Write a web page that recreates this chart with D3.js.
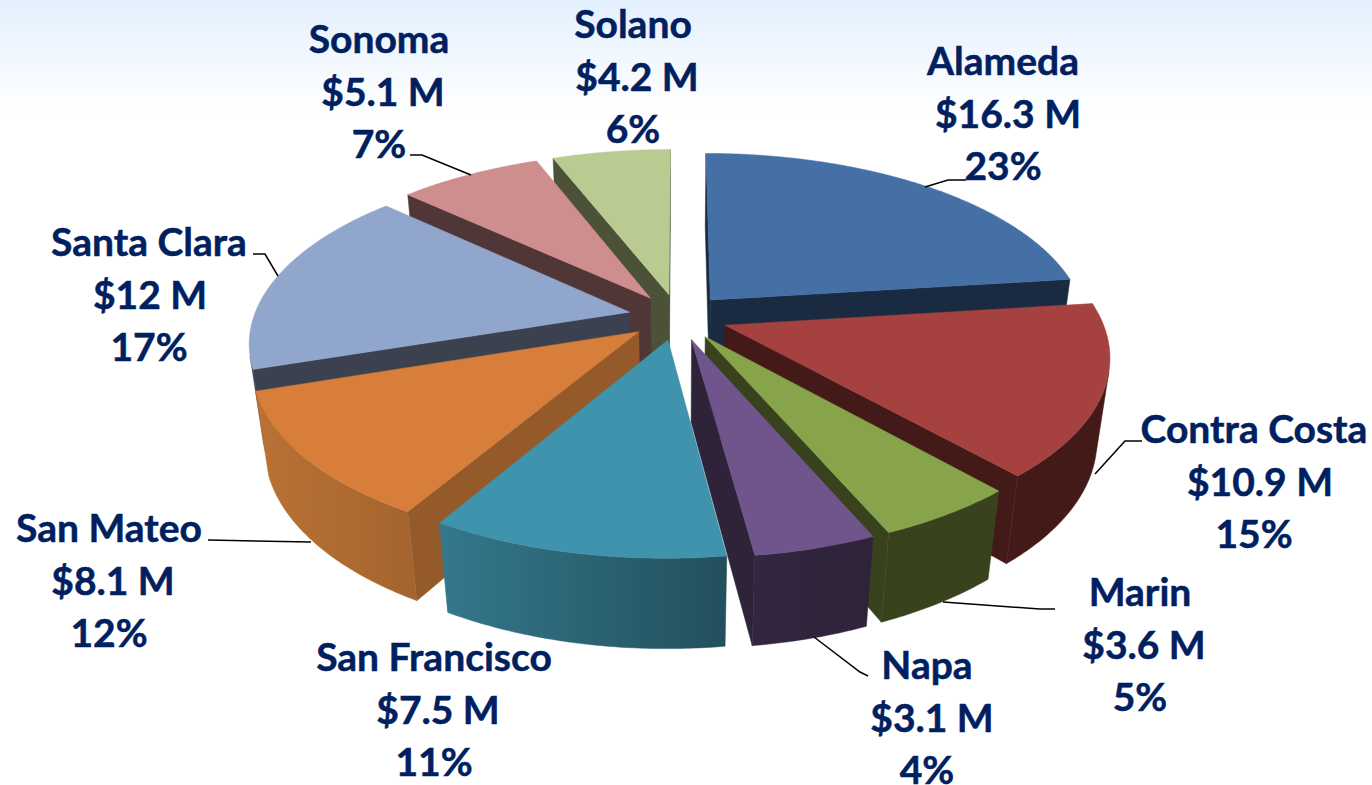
<!DOCTYPE html>
<html>
<head>
<meta charset="utf-8">
<script src="https://cdn.jsdelivr.net/npm/d3@7"></script>
<style>
html,body{margin:0;padding:0;background:#fff;overflow:hidden}
text{font-family:Lato,"Open Sans",sans-serif;font-weight:700;fill:#002060;stroke:#002060;stroke-width:0.5px;text-anchor:middle}
</style>
</head>
<body>
<script>
var counties = ["Alameda","Contra Costa","Marin","Napa","San Francisco","San Mateo","Santa Clara","Sonoma","Solano"]
var amounts = [16.3,10.9,3.6,3.1,7.5,8.1,12,5.1,4.2]
var percents = [23,15,5,4,11,12,17,7,6]

var topColors = ["#4570a5","#a54240","#87a44b","#6f558c","#3f93ac","#d67e3a","#91a6cd","#cd8e8d","#b9cb90"]
var cutColors = ["#1a2b41","#431a18","#38431e","#2e2339","#2a6475","#955a2a","#3b414f","#513637","#4c5238"]
var wallLeft  = ["#1a2b41","#431a18","#38431e","#33263f","#34788c","#ba7234","#3b414f","#513637","#4c5238"]
var wallRight = ["#1a2b41","#431a18","#38431e","#2e2339","#224f5c","#a4642e","#3b414f","#513637","#4c5238"]

// label centre x, first baseline y, shift of the amount line
var labelX = [1003,1254,1140,927,434,109,149,379,633]
var labelY = [75,443,606,679,671,542,256,53,38]
var amountDx = [5,6,4,5,4,4,1,4,4]
var leaders = [
	[[925,187],[948,180],[966,180]],
	[[1142,441],[1125,441],[1095,474]],
	[[1055,609],[1040,609],[943,602]],
	[[868,676],[860,672],[814,637]],
	[],
	[[208,540],[311,542]],
	[[253,254],[265,254],[278,276]],
	[[410,155],[422,155],[471,175]],
	[]
]

var width=1372, height=785
var cx=678, cy=317, rx=376, ry=175, depth=84
var explode=0.132, persp=0.16, persp_z=0.03

var svg=d3.select("body").append("svg").attr("width",width).attr("height",height).style("display","block")
var defs=svg.append("defs")

var bg=defs.append("linearGradient").attr("id","bg").attr("x1",0).attr("y1",0).attr("x2",0).attr("y2",1)
bg.append("stop").attr("offset",0).attr("stop-color","#e4f0fe")
bg.append("stop").attr("offset",1).attr("stop-color","#ffffff")
svg.append("rect").attr("width",width).attr("height",115).attr("fill","url(#bg)")

// X,Y in units of the radius, z 0 top face, 1 bottom face
function project(X,Y,z)
{
	var w=1/(1-persp*Y+persp_z*z)
	return [cx+X*rx*w, cy+(Y*ry+z*depth)*w]
}

var pie=d3.pie().sort(null).value(function(d){return d})
var slices=pie(amounts).map(function(s,i){
	var mid=(s.startAngle+s.endAngle)/2
	return {i:i,a0:s.startAngle,a1:s.endAngle,ox:explode*Math.sin(mid),oy:-explode*Math.cos(mid),mid:mid}
})

function rim(s,a){return [s.ox+Math.sin(a),s.oy-Math.cos(a)]}
function quad(p,q)
{
	return [project(p[0],p[1],0),project(q[0],q[1],0),project(q[0],q[1],1),project(p[0],p[1],1)]
}
var line=d3.line().curve(d3.curveLinear)

// back to front
slices.sort(function(a,b){return d3.ascending(-Math.cos(a.mid),-Math.cos(b.mid))})

slices.forEach(function(s){
	var i=s.i
	var g=svg.append("g")
	var apex=[s.ox,s.oy]
	var n=Math.ceil((s.a1-s.a0)/0.01)
	var angles=d3.range(n+1).map(function(k){return s.a0+(s.a1-s.a0)*k/n})

	// two cut faces
	;[[apex,rim(s,s.a0)],[rim(s,s.a1),apex]].forEach(function(e){
		var q=quad(e[0],e[1])
		if(d3.polygonArea(q)>0)
			g.append("path").attr("d",line(q)+"Z").attr("fill",cutColors[i]).attr("stroke",cutColors[i]).attr("stroke-width",0.5)
	})

	// outer wall, front facing part only
	var top=[], bottom=[]
	for(var k=0;k<n;k++)
	{
		var p=rim(s,angles[k]), q=rim(s,angles[k+1])
		var c=quad(p,q)
		if(d3.polygonArea(c)>0)
		{
			if(!top.length){top.push(c[0]);bottom.push(c[3])}
			top.push(c[1]);bottom.push(c[2])
		}
	}
	if(top.length)
	{
		var id="wall"+i
		var xs=top.concat(bottom).map(function(d){return d[0]})
		var grad=defs.append("linearGradient").attr("id",id).attr("gradientUnits","userSpaceOnUse")
			.attr("x1",d3.min(xs)).attr("y1",0).attr("x2",d3.max(xs)).attr("y2",0)
		grad.append("stop").attr("offset",0).attr("stop-color",wallLeft[i])
		grad.append("stop").attr("offset",1).attr("stop-color",wallRight[i])
		g.append("path").attr("d",line(top.concat(bottom.reverse()))+"Z")
			.attr("fill","url(#"+id+")").attr("stroke","url(#"+id+")").attr("stroke-width",0.5)
	}

	// top face
	var face=[project(apex[0],apex[1],0)].concat(angles.map(function(a){
		var r=rim(s,a)
		return project(r[0],r[1],0)
	}))
	g.append("path").attr("d",line(face)+"Z").attr("fill",topColors[i]).attr("stroke",topColors[i]).attr("stroke-width",0.5)
})

// leader lines
svg.append("g").selectAll("path").data(leaders).enter().append("path")
	.attr("d",function(d){return d.length?line(d):null})
	.attr("fill","none").attr("stroke","#000").attr("stroke-width",1.5)

// labels
var lineHeight=52.5
counties.forEach(function(name,i){
	var t=svg.append("text").attr("font-size",39)
	t.append("tspan").attr("x",labelX[i]).attr("y",labelY[i]).text(name)
	t.append("tspan").attr("x",labelX[i]+amountDx[i]).attr("y",labelY[i]+lineHeight).text("$"+amounts[i]+" M")
	t.append("tspan").attr("x",labelX[i]).attr("y",labelY[i]+2*lineHeight).text(percents[i]+"%")
})
</script>
</body>
</html>
